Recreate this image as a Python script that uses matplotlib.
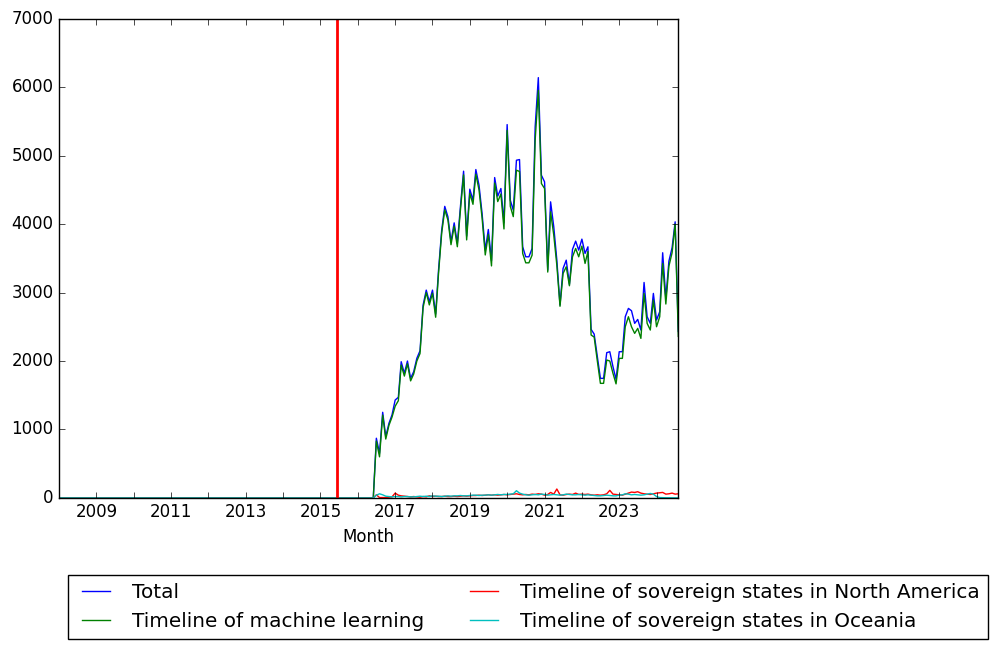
import numpy as np
import pandas as pd
import matplotlib
matplotlib.use("Agg")
import matplotlib.pyplot as plt
import matplotlib.dates as mdates
import matplotlib.ticker as mticker

plt.style.use("classic")

# monthly counts, 2008-01 .. 2024-08; everything before 2016-07 is zero
months = pd.date_range("2008-01-01", "2024-08-01", freq="MS")
n_zero = 102

total_vals = [
    872, 652, 1251, 895, 1090, 1212, 1430, 1470, 1990, 1820, 2000, 1747,
    1844, 2040, 2150, 2817, 3036, 2866, 3036, 2686, 3328, 3912, 4260, 4107,
    3742, 4019, 3718, 4253, 4774, 3825, 4511, 4350, 4798, 4569, 4156, 3620,
    3922, 3465, 4681, 4409, 4521, 4019, 5455, 4350, 4204, 4934, 4944, 3669,
    3523, 3523, 3645, 5421, 6141, 4715, 4618, 3328, 4326, 3961, 3474, 2818,
    3353, 3474, 3120, 3631, 3752, 3620, 3781, 3572, 3669, 2463, 2394, 2060,
    1747, 1747, 2122, 2136, 1917, 1733, 2136, 2136, 2647, 2769, 2735, 2550,
    2608, 2453, 3148, 2647, 2550, 2988, 2599, 2720, 3582, 2915, 3460, 3655,
    4034, 2433,
]
ml_vals = [
    830, 600, 1210, 860, 1060, 1180, 1340, 1420, 1940, 1780, 1960, 1710,
    1810, 2000, 2110, 2780, 3000, 2820, 2990, 2640, 3280, 3870, 4210, 4060,
    3700, 3970, 3670, 4200, 4720, 3770, 4450, 4290, 4730, 4500, 4090, 3550,
    3850, 3390, 4600, 4330, 4440, 3930, 5370, 4260, 4110, 4788, 4770, 3572,
    3435, 3435, 3547, 5226, 5956, 4594, 4521, 3300, 4180, 3839, 3400, 2800,
    3280, 3377, 3100, 3523, 3645, 3523, 3679, 3426, 3600, 2380, 2350, 2000,
    1674, 1674, 2015, 2000, 1820, 1666, 2039, 2039, 2501, 2647, 2501, 2404,
    2477, 2331, 2988, 2550, 2453, 2891, 2501, 2647, 3426, 2833, 3387, 3582,
    4000, 2360,
]
north_america_vals = [
    45, 5, 5, 5, 10, 15, 70, 40, 30, 25, 20, 15,
    20, 15, 10, 20, 15, 30, 20, 25, 20, 20, 25, 20,
    20, 25, 20, 25, 30, 25, 30, 35, 35, 40, 35, 40,
    45, 40, 45, 40, 45, 50, 45, 50, 55, 60, 50, 45,
    50, 45, 55, 50, 60, 55, 40, 50, 80, 55, 130, 45,
    40, 50, 55, 50, 70, 50, 55, 50, 55, 45, 40, 45,
    40, 45, 60, 110, 55, 50, 45, 40, 55, 70, 85, 80,
    90, 70, 60, 55, 50, 60, 70, 75, 80, 55, 60, 70,
    55, 60,
]
oceania_vals = [
    40, 60, 45, 25, 20, 15, 20, 20, 15, 20, 20, 15,
    15, 20, 25, 20, 25, 20, 30, 25, 25, 20, 25, 30,
    25, 30, 30, 35, 30, 30, 35, 40, 40, 35, 40, 40,
    45, 40, 45, 50, 45, 50, 50, 55, 60, 105, 70, 55,
    45, 40, 45, 50, 45, 55, 50, 40, 45, 50, 45, 40,
    45, 55, 50, 45, 45, 50, 45, 40, 45, 40, 35, 30,
    30, 35, 40, 35, 30, 30, 40, 45, 60, 55, 45, 50,
    45, 40, 45, 55, 65, 55, 20, 5, 3, 2, 2, 1,
    1, 0,
]
event_date = pd.Timestamp("2015-06-15")

series = {
    "Total": total_vals,
    "Timeline of machine learning": ml_vals,
    "Timeline of sovereign states in North America": north_america_vals,
    "Timeline of sovereign states in Oceania": oceania_vals,
}
df = pd.DataFrame({k: [0] * n_zero + v for k, v in series.items()}, index=months)

fig = plt.figure(figsize=(9.99, 6.5), dpi=100)
ax = fig.add_axes([0.059, 0.234, 0.62, 0.737])
for col, c in zip(df.columns, ["b", "g", "r", "c"]):
    ax.plot(df.index, df[col], color=c, lw=1, label=col)
ax.axvline(event_date, color="r", lw=2)

ax.set_xlim(months[0], months[-1])
ax.set_ylim(0, 7000)
ax.xaxis.set_major_locator(mdates.YearLocator(1))
ax.xaxis.set_major_formatter(mticker.FuncFormatter(
    lambda v, pos: str(mdates.num2date(v).year) if mdates.num2date(v).year % 2 else ""))
ax.set_xlabel("Month")

fig.legend(loc="upper left", bbox_to_anchor=(0.058, 0.131), ncol=2)
fig.savefig("out.png", dpi=100)
